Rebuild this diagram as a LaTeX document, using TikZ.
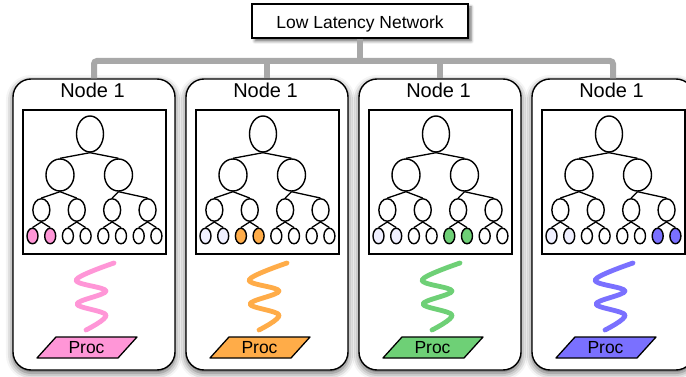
\documentclass[tikz,border=0pt]{standalone}
\usepackage{fontspec}
\setmainfont{Liberation Sans}
\usetikzlibrary{shapes.geometric,shadows.blur}

\definecolor{pinkc}{RGB}{255,150,215}
\definecolor{orangec}{RGB}{255,172,72}
\definecolor{greenc}{RGB}{110,208,118}
\definecolor{bluec}{RGB}{122,112,255}
\definecolor{lavc}{RGB}{240,240,255}
\definecolor{busc}{RGB}{168,168,168}

\tikzset{
  clusterbox/.style={draw=black, line width=1.4pt, fill=white, rounded corners=18pt,
    minimum width=162pt, minimum height=291pt, inner sep=0pt,
    blur shadow={shadow xshift=0pt, shadow yshift=-3pt, shadow blur radius=7pt, shadow opacity=65}},
  netbox/.style={draw=black, line width=1.3pt, fill=white, minimum width=216pt,
    minimum height=34pt, inner sep=0pt, font=\fontsize{17.5}{20}\selectfont,
    text height=14.6pt, text depth=0pt,
    blur shadow={shadow xshift=3pt, shadow yshift=-3pt, shadow blur radius=3pt, shadow opacity=60}},
  treebox/.style={draw=black, line width=1.3pt, fill=white, minimum width=143pt,
    minimum height=144pt, inner sep=0pt},
  vert/.style={ellipse, draw=black, line width=1.4pt, fill=white, inner sep=0pt},
  vroot/.style={vert, minimum width=27pt, minimum height=36pt},
  vmid/.style={vert, minimum width=28pt, minimum height=32pt},
  vlow/.style={vert, minimum width=17pt, minimum height=22.5pt},
  vleaf/.style={vert, minimum width=11pt, minimum height=15.5pt},
  branch/.style={draw=black, line width=1.3pt},
  bus/.style={draw=busc, line width=6pt, rounded corners=3pt},
  spring/.style={line width=4.8pt, line cap=round, line join=round},
  procshape/.style={draw=black, line width=1.3pt, line join=round},
  title/.style={anchor=base, font=\fontsize{20}{24}\selectfont, inner sep=0pt},
  proclabel/.style={anchor=base, font=\fontsize{17.5}{20}\selectfont, inner sep=0pt},
}

\begin{document}
\begin{tikzpicture}[x=1pt,y=-1pt]
\useasboundingbox (0,0) rectangle (686,377);
\clip (0,0) rectangle (686,377);
\coordinate (busline) at (0,61);

% four compute nodes, each with a binary tree, a thread and a processor
\foreach \k/\col/\fills in {
    1/pinkc/{pinkc,pinkc,white,white,white,white,white,white},
    2/orangec/{lavc,lavc,orangec,orangec,white,white,white,white},
    3/greenc/{lavc,lavc,white,white,greenc,greenc,white,white},
    4/bluec/{lavc,lavc,white,white,white,white,bluec,bluec}} {
  \pgfmathsetmacro\cx{94+173*(\k-1)}
  \begin{scope}[shift={(\cx,0)}]
    \node[clusterbox] (box\k) at (0,224.5) {};
    \node[title] (title\k) at (-1.5,97.3) {Node 1};
    \node[treebox] (tree\k) at (0.5,182) {};
    % tree vertices
    \node[vroot] (r\k) at (-4,134) {};
    \node[vmid] (a\k-1) at (-34,175) {};
    \node[vmid] (a\k-2) at (24.5,175) {};
    \foreach \q in {1,...,4} {
      \node[vlow] (m\k-\q) at ({-52.65+35.4*(\q-1)},210) {};
    }
    \foreach \f [count=\j] in \fills {
      \node[vleaf, fill=\f] (l\k-\j) at ({-61.5+17.7*(\j-1)},236) {};
    }
    % tree edges
    \draw[branch] (r\k.south) -- (a\k-1.north);
    \draw[branch] (r\k.south) -- (a\k-2.north);
    \foreach \q in {1,...,4} {
      \pgfmathtruncatemacro\p{(\q+1)/2}
      \draw[branch] (a\k-\p.south) -- (m\k-\q.north);
    }
    \foreach \j in {1,...,8} {
      \pgfmathtruncatemacro\p{(\j+1)/2}
      \draw[branch] (m\k-\p.south) -- (l\k-\j.north);
    }
    % thread
    \draw[spring, draw=\col] plot[smooth, tension=0.6] coordinates
      {(20,263) (-18,280) (12,291) (-17,304) (12,315) (-8,330)};
    % processor
    \path[procshape, fill=\col] (-38,337) -- (43,337) -- (24,358) -- (-57,358) -- cycle;
    \node[proclabel] (proc\k) at (-7.5,353.3) {Proc};
  \end{scope}
}

% interconnect
\draw[bus] (box1.north) -- (box1.north |- busline) -- (box4.north |- busline) -- (box4.north);
\draw[bus] (box2.north) -- (box2.north |- busline);
\draw[bus] (box3.north) -- (box3.north |- busline);
\node[netbox] (net) at (360,21) {Low Latency Network};
\draw[bus] (net.south) -- (net.south |- busline);
\end{tikzpicture}
\end{document}
